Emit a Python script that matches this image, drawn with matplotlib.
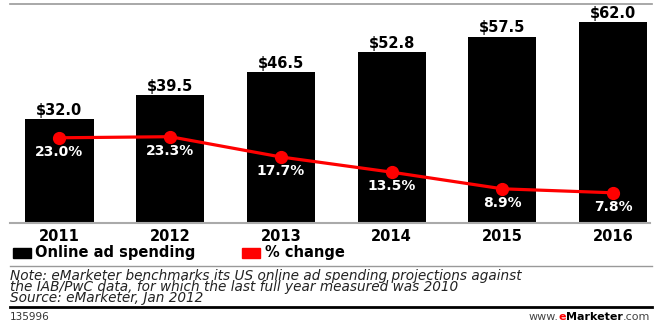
import numpy as np
import matplotlib
matplotlib.use("Agg")
import matplotlib.pyplot as plt
from matplotlib.lines import Line2D
from matplotlib.patches import Rectangle

years = ["2011", "2012", "2013", "2014", "2015", "2016"]
spending = [32.0, 39.5, 46.5, 52.8, 57.5, 62.0]
pct_change = [23.0, 23.3, 17.7, 13.5, 8.9, 7.8]

note_lines = [
    "Note: eMarketer benchmarks its US online ad spending projections against",
    "the IAB/PwC data, for which the last full year measured was 2010",
    "Source: eMarketer, Jan 2012",
]

W, H = 656, 327
RED = "#ff0000"


def fx(px):
    return px / W


def fy(py):
    return 1 - py / H


fig = plt.figure(figsize=(W / 100, H / 100), dpi=100)
fig.patch.set_facecolor("white")

# bar chart area
ax = fig.add_axes([fx(10), fy(223), fx(640), 218 / H])
x = np.arange(len(years))
ax.bar(x, spending, width=0.615, color="black", zorder=2)
ax.set_xlim(-0.447, 5.334)
ax.set_ylim(0, 67.3)
for i, v in enumerate(spending):
    ax.annotate(f"\\${v:.1f}", (i, v), xytext=(0, 1), textcoords="offset points",
                ha="center", va="bottom", fontsize=10.5, fontweight="bold")

for side in ["left", "right", "top"]:
    ax.spines[side].set_visible(False)
ax.spines["bottom"].set_color("#aaaaaa")
ax.spines["bottom"].set_linewidth(1.5)
ax.set_yticks([])
ax.set_xticks(x, years)
ax.tick_params(axis="x", length=0, pad=4, labelsize=10.5)
for lbl in ax.get_xticklabels():
    lbl.set_fontweight("bold")

# % change line on its own scale
ax2 = ax.twinx()
ax2.set_ylim(-0.55, 59.7)
ax2.plot(x, pct_change, color=RED, lw=2.3, marker="o", ms=8.5, zorder=3)
for i, v in enumerate(pct_change):
    ax2.annotate(f"{v:.1f}%", (i, v), xytext=(0, -10), textcoords="offset points",
                 ha="center", va="center", fontsize=10, fontweight="bold", color="white")
for side in ax2.spines:
    ax2.spines[side].set_visible(False)
ax2.set_yticks([])

# top rule
fig.add_artist(Line2D([fx(10), fx(652)], [fy(4), fy(4)], color="#999999", lw=1.2))

# legend
fig.add_artist(Rectangle((fx(13), fy(258)), fx(18), 10 / H, color="black"))
fig.text(fx(35), fy(253), "Online ad spending", fontsize=10.5, fontweight="bold",
         va="center", ha="left")
fig.add_artist(Rectangle((fx(242), fy(258)), fx(18), 10 / H, color=RED))
fig.text(fx(265), fy(253), "% change", fontsize=10.5, fontweight="bold",
         va="center", ha="left")

# notes
fig.add_artist(Line2D([fx(10), fx(652)], [fy(266), fy(266)], color="#999999", lw=1))
fig.text(fx(10), fy(269), "\n".join(note_lines), fontsize=9.8, style="italic",
         color="#222222", va="top", ha="left", linespacing=0.72)
fig.add_artist(Line2D([fx(10), fx(652)], [fy(307), fy(307)], color="black", lw=2))

# footer
fig.text(fx(10), fy(317), "135996", fontsize=7.5, color="#333333", va="center", ha="left")
renderer = fig.canvas.get_renderer()
parts = [(".com", "normal", "#444444"), ("Marketer", "bold", "black"),
         ("e", "bold", RED), ("www.", "normal", "#444444")]
right = fx(650)
for s, weight, col in parts:
    t = fig.text(right, fy(317), s, fontsize=8, fontweight=weight, color=col,
                 va="center", ha="right")
    bb = t.get_window_extent(renderer)
    right -= bb.width / W

fig.savefig("out.png", dpi=100)
